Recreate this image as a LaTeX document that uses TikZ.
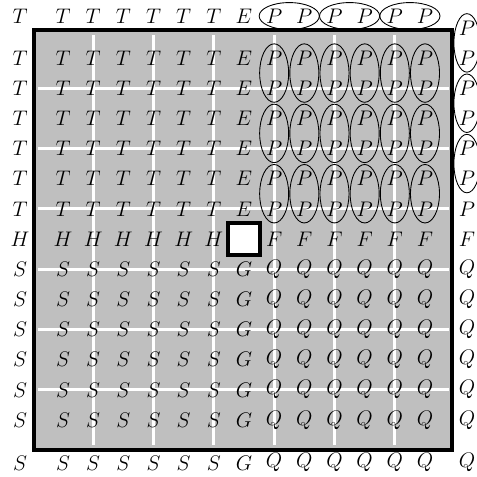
\documentclass[tikz,border=0pt]{standalone}
\usetikzlibrary{shapes.geometric, fit}
\tikzset{
    grid_cell/.style={
        inner sep=0pt,
        font=\fontsize{14pt}{17pt}\selectfont
    },
    grid_board/.style={
        draw=black,
        fill=black!25,
        line width=2.7pt
    },
    grid_line/.style={
        draw=white,
        line width=2pt
    },
    grid_hole/.style={
        rectangle,
        draw=black,
        fill=white,
        line width=2.7pt,
        minimum size=21.8pt,
        inner sep=0pt
    },
    grid_pair_v/.style={
        ellipse,
        draw,
        line width=0.6pt,
        inner xsep=0pt,
        inner ysep=-1.3pt,
        minimum width=19.8pt
    },
    grid_pair_h/.style={
        ellipse,
        draw,
        line width=0.6pt,
        inner xsep=-1.5pt,
        inner ysep=0pt,
        minimum height=18.4pt
    },
    grid_pair_r/.style={
        ellipse,
        draw,
        line width=0.6pt,
        inner xsep=0pt,
        inner ysep=-1.3pt,
        minimum width=17.8pt
    }
}

\begin{document}
\begin{tikzpicture}[x=20.6pt, y=-20.6pt]
\useasboundingbox (-1.088,-0.922) rectangle (14.72,14.89);

% Board and its white lines
\draw[grid_board] (0.04,0.07) rectangle (13.89,13.99);
\foreach \k in {2,4,...,12} {
  \draw[grid_line] (\k,0.24) -- (\k,13.83);
  \draw[grid_line] (0.17,\k) -- (13.79,\k);
}
\node[grid_hole] (hole) at (7,7) {};

% Letters, row by row (row 0 and row 14 are the border copies)
\foreach \row/\y/\wl/\ml/\el in {0/-0.39/T/E/P, 1/1/T/E/P, 2/2/T/E/P, 3/3/T/E/P,
    4/4/T/E/P, 5/5/T/E/P, 6/6/T/E/P, 7/7/H/-/F, 8/8/S/G/Q, 9/9/S/G/Q,
    10/10/S/G/Q, 11/11/S/G/Q, 12/12/S/G/Q, 13/13/S/G/Q, 14/14.42/S/G/Q} {
  \foreach \col/\x in {0/-0.425, 1/1, 2/2, 3/3, 4/4, 5/5, 6/6}
    \node[grid_cell] (m-\row-\col) at (\x,\y) {$\wl$};
  \foreach \col in {8,...,13}
    \node[grid_cell] (m-\row-\col) at (\col,\y) {$\el$};
  \ifnum\row=7\else\node[grid_cell] (m-\row-7) at (7,\y) {$\ml$};\fi
}

% Right border column
\foreach \row/\y/\el in {0/0/P, 1/1/P, 2/2/P, 3/3/P, 4/4/P, 5/5/P, 6/6/P,
    7/7/F, 8/8/Q, 9/9/Q, 10/10/Q, 11/11/Q, 12/12/Q, 13/13/Q, 14/14.42/Q}
  \node[grid_cell] (m-\row-14) at (14.39,\y) {$\el$};

% Pairs
\foreach \col in {8,...,13}
  \foreach \ra/\rb in {1/2, 3/4, 5/6}
    \node[grid_pair_v, fit=(m-\ra-\col)(m-\rb-\col)] (e-\ra-\col) {};
\foreach \ca/\cb in {8/9, 10/11, 12/13}
  \node[grid_pair_h, fit=(m-0-\ca)(m-0-\cb)] (e-0-\ca) {};
\foreach \ra/\rb in {0/1, 2/3, 4/5}
  \node[grid_pair_r, fit=(m-\ra-14)(m-\rb-14)] (e-\ra-14) {};

\end{tikzpicture}
\end{document}
